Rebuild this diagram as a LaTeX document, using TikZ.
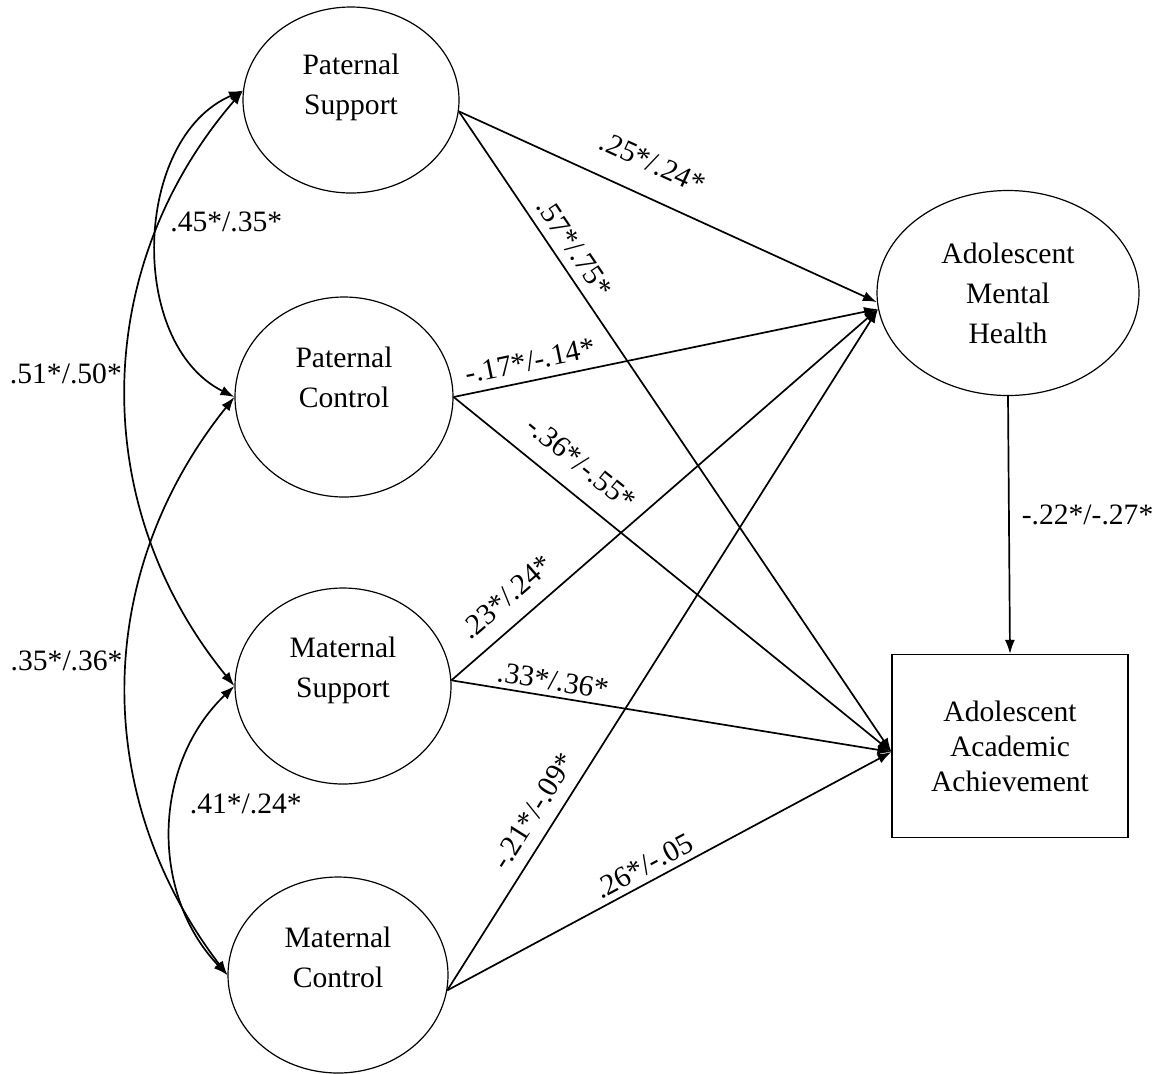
\documentclass[tikz,border=0pt]{standalone}
\usepackage{fontspec}
\setmainfont{Liberation Serif}
\usepackage{tikz}
\usetikzlibrary{arrows.meta,shapes.geometric}
\tikzset{
  latent/.style={ellipse,draw=black,line width=0.6pt},
  latentText/.style={align=center,font=\fontsize{14.8}{20}\selectfont,inner sep=0pt},
  observed/.style={draw=black,line width=0.6pt,minimum width=118pt,minimum height=91.5pt,
    align=center,font=\fontsize{14.8}{17.5}\selectfont},
  effect/.style={-{Latex[length=7pt,width=5pt]},line width=0.85pt},
  cov/.style={{Latex[length=7pt,width=5pt]}-{Latex[length=7pt,width=5pt]},line width=0.85pt},
  coef/.style={font=\fontsize{14.8}{17}\selectfont,inner sep=2pt}
}

\begin{document}
\begin{tikzpicture}[x=0.5pt,y=-0.5pt]
  \useasboundingbox (0,0) rectangle (1156,1073);
  % parenting constructs
  \node[latent,minimum width=108pt,minimum height=93pt] (ps) at (351,100) {};
  \node[latent,minimum width=109pt,minimum height=100pt] (pc) at (344,397) {};
  \node[latent,minimum width=108pt,minimum height=98pt] (ms) at (343,686) {};
  \node[latent,minimum width=110pt,minimum height=98pt] (mc) at (338,975) {};
  \node[latentText] (psText) at ([yshift=6.5pt]ps.center) {Paternal\\Support};
  \node[latentText] (pcText) at ([yshift=10pt]pc.center) {Paternal\\Control};
  \node[latentText] (msText) at ([yshift=8pt]ms.center) {Maternal\\Support};
  \node[latentText] (mcText) at ([yshift=9pt]mc.center) {Maternal\\Control};
  % outcomes
  \node[latent,minimum width=131pt,minimum height=102.5pt] (amh) at (1008,293) {};
  \node[latentText] (amhText) at (amh.center) {Adolescent\\Mental\\Health};
  \node[observed] (aaa) at (1010,746) {Adolescent\\Academic\\Achievement};
  \coordinate (aaaIn) at ([yshift=-3pt]aaa.west);

  % paths to mental health
  \draw[effect] (ps.-6) -- node[coef,pos=0.43,sloped,above=9.5pt] {.25*/.24*} (amh.184);
  \draw[effect] (pc.east) -- node[coef,pos=0.19,sloped,above=2.5pt] {-.17*/-.14*} (amh.187);
  \draw[effect] (ms.3) -- node[coef,pos=0.17,sloped,above=6pt] {.23*/.24*} (amh.187);
  \draw[effect] (mc.-8) -- node[coef,pos=0.245,sloped,above=4pt] {-.21*/-.09*} (amh.187);
  % paths to achievement
  \draw[effect] (ps.-6) -- node[coef,pos=0.23,sloped,above=2.5pt] {.57*/.75*} (aaaIn);
  \draw[effect] (pc.east) -- node[coef,pos=0.25,sloped,above=7pt] {-.36*/-.55*} (aaaIn);
  \draw[effect] (ms.3) -- node[coef,pos=0.225,sloped,above=0.5pt] {.33*/.36*} (aaaIn);
  \draw[effect] (mc.-8) -- node[coef,pos=0.46,sloped,above=1pt] {.26*/-.05} (aaaIn);
  \draw[effect] (amh.south) -- node[coef,pos=0.46,right=4pt] {-.22*/-.27*} (aaa.north);

  % covariances
  \draw[cov] (ps.175) to[bend right=65] node[coef,pos=0.45,right=3.5pt] {.45*/.35*} (pc.west);
  \draw[cov] (ps.175) to[bend right=40] node[coef,pos=0.48,left=0pt] {.51*/.50*} (ms.west);
  \draw[cov] (pc.west) to[bend right=38] node[coef,pos=0.46,left=0pt] {.35*/.36*} (mc.west);
  \draw[cov] (ms.west) to[bend right=45] node[coef,pos=0.42,right=6pt] {.41*/.24*} (mc.west);
\end{tikzpicture}
\end{document}
